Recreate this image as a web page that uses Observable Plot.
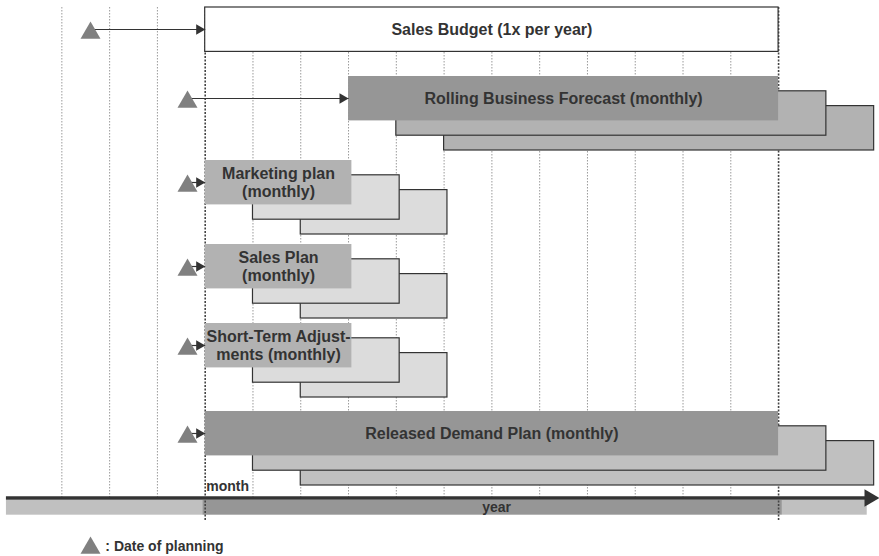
<!DOCTYPE html>
<html><head><meta charset="utf-8">
<script src="https://cdn.jsdelivr.net/npm/d3@7"></script>
<script src="https://cdn.jsdelivr.net/npm/@observablehq/plot@0.6"></script>
<style>html,body{margin:0;padding:0;background:#fff;} svg{display:block;}</style>
</head><body><div id="chart"></div>
<script>
// ---------- data ----------
const tasks = [
  "Sales Budget (1x per year)",
  "Rolling Business Forecast (monthly)",
  "Marketing plan\n(monthly)",
  "Sales Plan\n(monthly)",
  "Short-Term Adjust-\nments (monthly)",
  "Released Demand Plan (monthly)"
];
const taskStart = [0, 3, 0, 0, 0, 0];          // month the plan starts
const taskLength = [12, 9, 3.07, 3.07, 3.07, 12]; // months covered
const planningMonth = [-2.4, -0.37, -0.37, -0.37, -0.37, -0.37]; // date of planning
const rollingCopies = [0, 2, 2, 2, 2, 2];      // later monthly versions shown
const gridMonths = [-3, -2, -1, 0, 1, 2, 3, 4, 5, 6, 7, 8, 9, 10, 11, 12];
const yearBounds = [0, 12];
const monthLabel = "month";
const yearLabel = "year";
const legendLabel = ": Date of planning";

// ---------- layout / style ----------
const laneTop = [7, 76, 160, 244, 323, 411];
const boxH = 44.4, step = 14.8;
const mainFill = ["#ffffff", "#969696", "#b2b2b2", "#b2b2b2", "#b2b2b2", "#969696"];
const copyFill = ["#ffffff", "#b2b2b2", "#dcdcdc", "#dcdcdc", "#dcdcdc", "#c0c0c0"];
const ink = "#333333";
const font = "Liberation Sans, Arial, Helvetica, sans-serif";

const boxes = [];
tasks.forEach((t, i) => {
  for (let k = rollingCopies[i]; k >= 0; k--) {
    boxes.push({
      x1: taskStart[i] + k,
      x2: taskStart[i] + taskLength[i] + k,
      y1: laneTop[i] + k * step,
      y2: laneTop[i] + k * step + boxH,
      fill: k === 0 ? mainFill[i] : copyFill[i],
      stroke: (k === 0 && i !== 0) ? "none" : ink
    });
  }
});
const rows = tasks.map((t, i) => ({
  label: t,
  plan: planningMonth[i],
  start: taskStart[i],
  mid: taskStart[i] + taskLength[i] / 2,
  yMid: laneTop[i] + 22,
  yTri: laneTop[i] + 25.5
}));

const axisLeft = -4.16, axisRight = 13.9, axisTip = 14.112;
const yearBar = [
  {x1: axisLeft, x2: yearBounds[0] - 0.05, fill: "#c0c0c0"},
  {x1: yearBounds[0] - 0.05, x2: yearBounds[1] + 0.08, fill: "#969696"},
  {x1: yearBounds[1] + 0.08, x2: 13.855, fill: "#c0c0c0"}
];

const chart = Plot.plot({
  width: 879,
  height: 556,
  margin: 0,
  style: {background: "#fff", fontFamily: font},
  x: {domain: [-4.284, 14.112], range: [0, 879], axis: null},
  y: {domain: [0, 556], range: [0, 556], axis: null},
  color: {type: "identity"},
  marks: [
    // light monthly grid
    Plot.ruleX(gridMonths.filter(m => !yearBounds.includes(m)), {y1: 7, y2: 498, stroke: "#9a9a9a", strokeWidth: 1, strokeDasharray: "1.5,1.5"}),
    // year bar
    Plot.rect(yearBar, {x1: "x1", x2: "x2", y1: 500, y2: 514.7, fill: "fill"}),
    // year boundaries
    Plot.ruleX(yearBounds, {y1: 7, y2: 521, stroke: "#444", strokeWidth: 1.6, strokeDasharray: "2,1.5"}),
    // time axis
    Plot.ruleY([497.5], {x1: axisLeft, x2: axisRight, stroke: ink, strokeWidth: 3.5}),
    Plot.dot([axisTip], {x: d => d, y: 497.5, symbol: "triangle", rotate: 90, r: 6.43, dx: -10, fill: ink, stroke: "none"}),
    // plan boxes
    Plot.rect(boxes, {x1: "x1", x2: "x2", y1: "y1", y2: "y2", fill: "fill", stroke: "stroke", strokeWidth: 1.2}),
    // arrows from date of planning
    Plot.link(rows, {x1: "plan", x2: "start", y1: "yMid", y2: "yMid", stroke: ink, strokeWidth: 1.2}),
    Plot.dot(rows, {x: "plan", y: "yTri", symbol: "triangle", r: 7.42, fill: "#808080", stroke: "none"}),
    Plot.dot(rows, {x: "start", y: "yMid", symbol: "triangle", rotate: 90, r: 3.9, dx: -6, fill: ink, stroke: "none"}),
    // labels
    Plot.text(rows, {x: "mid", y: "yMid", text: "label", fontSize: 16, fontWeight: "bold", fill: ink, lineHeight: 1.1, fontFamily: font}),
    Plot.text([monthLabel], {x: yearBounds[0], y: 486.2, dx: 1, text: d => d, textAnchor: "start", fontSize: 14, fontWeight: "bold", fill: ink, fontFamily: font}),
    Plot.text([yearLabel], {x: (yearBounds[0] + yearBounds[1]) / 2 + 0.1, y: 507.2, text: d => d, fontSize: 14, fontWeight: "bold", fill: ink, fontFamily: font}),
    // legend
    Plot.dot([planningMonth[0]], {x: d => d, y: 547.5, symbol: "triangle", r: 7.42, fill: "#808080", stroke: "none"}),
    Plot.text([legendLabel], {x: -2.09, y: 546.2, text: d => d, textAnchor: "start", fontSize: 14, fontWeight: "bold", fill: ink, fontFamily: font})
  ]
});
document.getElementById("chart").appendChild(chart);
</script>
</body></html>
